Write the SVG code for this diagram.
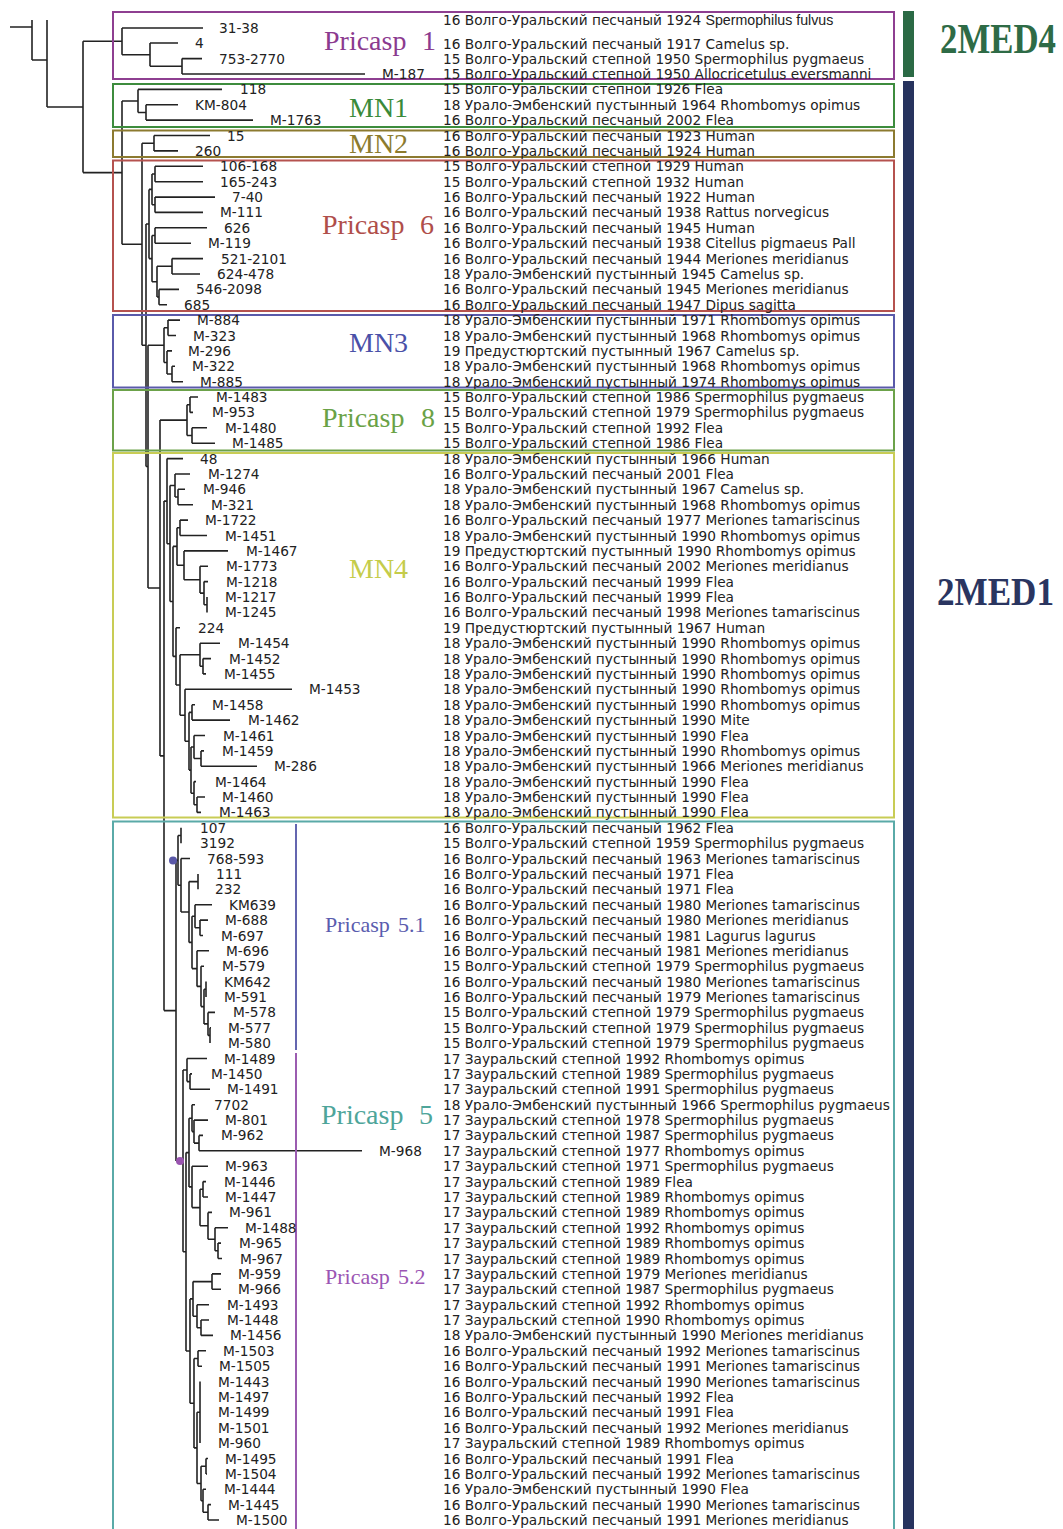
<svg xmlns="http://www.w3.org/2000/svg" width="1063" height="1529" viewBox="0 0 1063 1529">
<style>
.t{font-family:"DejaVu Sans",sans-serif;font-size:13.7px;fill:#222}
.ls{font-family:"Liberation Sans",sans-serif;font-size:14.2px}
.s{font-family:"Liberation Serif","Times New Roman",serif}
.br{stroke:#222;stroke-width:1.6;fill:none}
.bx{fill:none;stroke-width:2}
</style>
<rect width="1063" height="1529" fill="#fff"/>
<g id="bars">
<rect x="903" y="11" width="11" height="66" fill="#2b6a45"/>
<rect x="903" y="81" width="11" height="1460" fill="#27335e"/>
<text class="s" x="940" y="53" font-size="42" font-weight="bold" textLength="116" lengthAdjust="spacingAndGlyphs" fill="#2e6b46">2MED4</text>
<text class="s" x="937" y="605" font-size="40" font-weight="bold" textLength="117" lengthAdjust="spacingAndGlyphs" fill="#2a3560">2MED1</text>
</g>
<g id="connectors" class="br">
<path d="M10 27H32M32 20V60M32 60H47M47 20V107M47 107H83M83 41.3V172.6
M83 41.3H122M122 28V54.7M122 28H203M122 54.7H150M150 43V66.3M150 43H178M150 66.3H182M182 58.6V74M182 58.6H202M182 74H365
M83 172.6H122M122 101V244.2
M122 101H138M138 89.4V112.5M138 89.4H222M138 112.5H146M146 104.8V120.1M146 104.8H178M146 120.1H253
M122 244.2H142M142 143.2V345.3
M142 143.2H154M154 135.5V150.9M154 135.5H210M154 150.9H178
M142 345.3H146M146 224V466.5
M146 224H149M149 189.4V258.6M149 189.4H152M152 174V204.8M152 174H155M155 166.3V181.7M155 166.3H203M155 181.7H203M152 204.8H155M155 197.1V212.4M155 197.1H215M155 212.4H203M149 258.6H152M152 235.5V281.7M152 235.5H155M155 227.8V243.2M155 227.8H207M155 243.2H191M152 281.7H157M157 266.3V297M157 266.3H172M172 258.6V274M172 258.6H203M172 274H200M157 297H159M159 289.4V304.7M159 289.4H179M159 304.7H167
M146 466.5H148M148 345.3V588
M148 345.3H164M164 327.8V362.5M164 327.8H168M168 320.1V335.5M168 320.1H180M168 335.5H176M164 362.5H167M167 350.9V374M167 350.9H172M167 374H172M172 366.3V381.7M172 366.3H175M172 381.7H183
M148 588H160M160 420.1V755.9
M160 420.1H187M187 404.7V435.5M187 404.7H190M190 397V412.4M190 397H198M190 412.4H193M187 435.5H192M192 427.8V443.2M192 427.8H207M192 443.2H215
M160 755.9H164M164 501.1V1010.6
M164 501.1H167M167 458.6V543.7M167 458.6H183M167 543.7H170M170 485.5V601.5M170 485.5H175M175 474V497M175 474H190M175 497H178M178 489.3V504.7M178 489.3H185M178 504.7H193M170 601.5H173M173 546.4V656.4M173 546.4H177M177 527.8V565.3M177 527.8H180M180 520.1V535.5M180 520.1H188M180 535.5H207M177 565.3H184M184 550.9V579.7M184 550.9H228M184 579.7H200M200 566.3V593.1M200 566.3H208M200 593.1H204M204 581.6V604.7M204 581.6H208M204 604.7H207M207 597V612.4
M173 656.4H176M176 627.8V685M176 627.8H180M176 685H180M180 654.7V715.3M180 654.7H200M200 643.2V666.3M200 643.2H220M200 666.3H203M203 658.6V673.9M203 658.6H211M203 673.9H206M180 715.3H185M185 689.3V741.3M185 689.3H292M185 741.3H189M189 712.4V770.1M189 712.4H192M192 704.7V720.1M192 704.7H195M192 720.1H230M189 770.1H191M191 747V793.2M191 747H194M194 735.5V758.5M194 735.5H205M194 758.5H201M201 750.9V766.2M201 750.9H204M201 766.2H257M191 793.2H194M194 781.6V804.7M194 781.6H196M194 804.7H197M197 797V812.4M197 797H205M197 812.4H201
M164 1010.6H176M176 860.4V1160.9
M176 860.4H178M178 835.5V885.3M178 835.5H181M181 827.8V843.2M178 885.3H181M181 858.5V912M181 858.5H190M181 912H189M189 881.6V942.4M189 881.6H198M198 873.9V889.3M189 942.4H192M192 916.2V968.6M192 916.2H195M195 904.7V927.8M195 904.7H212M195 927.8H200M200 920.1V935.5M200 920.1H208M200 935.5H203M192 968.6H197M197 950.8V986.4M197 950.8H209M197 986.4H201M201 966.2V1006.6M201 966.2H204M201 1006.6H204M204 989.3V1023.9M204 989.3H206M206 981.6V997M204 1023.9H208M208 1012.4V1035.4M208 1012.4H215M208 1035.4H210M210 1027.8V1043.1M210 1027.8H211
M176 1160.9H183M183 1070V1251.8M183 1070H187M187 1058.5V1081.6M187 1058.5H207M187 1081.6H190M190 1073.9V1089.3M190 1073.9H192M190 1089.3H210M183 1251.8H186M186 1152.6V1351M186 1152.6H189M189 1118.2V1186.9M189 1118.2H192M192 1104.7V1131.6M192 1104.7H195M192 1131.6H194M194 1120.1V1143.1M194 1120.1H208M194 1143.1H199M199 1135.4V1150.8M199 1135.4H203M199 1150.8H362M189 1186.9H192M192 1166.2V1207.6M192 1166.2H208M192 1207.6H200M200 1189.3V1225.8M200 1189.3H203M203 1181.6V1197M203 1181.6H206M203 1197H208M200 1225.8H208M208 1212.4V1239.3M208 1212.4H212M208 1239.3H215M215 1227.7V1250.8M215 1227.7H228M215 1250.8H218M218 1243.1V1258.5M218 1243.1H221M218 1258.5H222
M186 1351H190M190 1298.9V1403.2M190 1298.9H193M193 1281.6V1316.2M193 1281.6H212M212 1273.9V1289.3M212 1273.9H221M212 1289.3H221M193 1316.2H197M197 1304.7V1327.7M197 1304.7H209M197 1327.7H201M201 1320V1335.4M201 1320H209M201 1335.4H213M190 1403.2H194M194 1358.5V1447.9M194 1358.5H198M198 1350.8V1366.2M198 1350.8H206M198 1366.2H202M194 1447.9H197M197 1412.3V1483.5M197 1412.3H200M200 1381.6V1443.1M197 1483.5H201M201 1466.2V1500.8M201 1466.2H206M206 1458.5V1473.9M206 1458.5H208M206 1473.9H207M201 1500.8H203M203 1489.3V1512.3M203 1489.3H206M203 1512.3H208M208 1504.6V1520M208 1504.6H211M208 1520H219"/>
<circle cx="173" cy="860.4" r="4" fill="#5a58a8" stroke="none"/>
<circle cx="180" cy="1161" r="4" fill="#9a55b0" stroke="none"/>
</g>

<g id="pricasp1">
<rect class="bx" x="113" y="12" width="781" height="67" stroke="#8e3f91"/>
<text class="s" y="50" font-size="28" fill="#8b3a8f"><tspan x="324">Pricasp</tspan><tspan x="422">1</tspan></text>
<text class="t" x="219" y="33">31-38</text>
<text class="t" x="195" y="48">4</text>
<text class="t" x="219" y="63.6">753-2770</text>
<text class="t" x="382" y="79">M-187</text>
<text class="t" x="443" y="25">16 Волго-Уральский песчаный 1924 <tspan class="ls">Spermophilus fulvus</tspan></text>
<text class="t" x="443" y="49">16 Волго-Уральский песчаный 1917 Camelus sp.</text>
<text class="t" x="443" y="63.6">15 Волго-Уральский степной 1950 Spermophilus pygmaeus</text>
<text class="t" x="443" y="79">15 Волго-Уральский степной 1950 Allocricetulus eversmanni</text>
</g>

<g id="mn1">
<rect class="bx" x="113" y="84" width="781" height="43" stroke="#3d8c3d"/>
<text class="s" x="349" y="117" font-size="28" fill="#3a8a3a">MN1</text>
<text class="t" x="240" y="94.4">118</text>
<text class="t" x="195" y="109.8">KM-804</text>
<text class="t" x="270" y="125.1">M-1763</text>
<text class="t" x="443" y="94.4">15 Волго-Уральский степной 1926 Flea</text>
<text class="t" x="443" y="109.8">18 Урало-Эмбенский пустынный 1964 Rhombomys opimus</text>
<text class="t" x="443" y="125.1">16 Волго-Уральский песчаный 2002 Flea</text>
</g>

<g id="mn2">
<rect class="bx" x="113" y="130.5" width="781" height="26.5" stroke="#8c7a30"/>
<text class="s" x="349" y="153" font-size="28" fill="#8c7b2e">MN2</text>
<text class="t" x="227" y="140.5">15</text>
<text class="t" x="195" y="155.9">260</text>
<text class="t" x="443" y="140.5">16 Волго-Уральский песчаный 1923 Human</text>
<text class="t" x="443" y="155.9">16 Волго-Уральский песчаный 1924 Human</text>
</g>

<g id="pricasp6">
<rect class="bx" x="113" y="160.5" width="781" height="150.5" stroke="#b5524f"/>
<text class="s" y="234" font-size="28" fill="#b04e4a"><tspan x="322">Pricasp</tspan><tspan x="420">6</tspan></text>
<text class="t" x="220" y="171.3">106-168</text>
<text class="t" x="220" y="186.7">165-243</text>
<text class="t" x="232" y="202.1">7-40</text>
<text class="t" x="220" y="217.4">M-111</text>
<text class="t" x="224" y="232.8">626</text>
<text class="t" x="208" y="248.2">M-119</text>
<text class="t" x="221" y="263.6">521-2101</text>
<text class="t" x="217" y="279">624-478</text>
<text class="t" x="196" y="294.4">546-2098</text>
<text class="t" x="184" y="309.7">685</text>
<text class="t" x="443" y="171.3">15 Волго-Уральский степной 1929 Human</text>
<text class="t" x="443" y="186.7">15 Волго-Уральский степной 1932 Human</text>
<text class="t" x="443" y="202.1">16 Волго-Уральский песчаный 1922 Human</text>
<text class="t" x="443" y="217.4">16 Волго-Уральский песчаный 1938 Rattus norvegicus</text>
<text class="t" x="443" y="232.8">16 Волго-Уральский песчаный 1945 Human</text>
<text class="t" x="443" y="248.2">16 Волго-Уральский песчаный 1938 Citellus pigmaeus Pall</text>
<text class="t" x="443" y="263.6">16 Волго-Уральский песчаный 1944 Meriones meridianus</text>
<text class="t" x="443" y="279">18 Урало-Эмбенский пустынный 1945 Camelus sp.</text>
<text class="t" x="443" y="294.4">16 Волго-Уральский песчаный 1945 Meriones meridianus</text>
<text class="t" x="443" y="309.7">16 Волго-Уральский песчаный 1947 Dipus sagitta</text>
</g>

<g id="mn3">
<rect class="bx" x="113" y="315" width="781" height="72.5" stroke="#5a5aaa"/>
<text class="s" x="349" y="352" font-size="28" fill="#4a50a8">MN3</text>
<text class="t" x="197" y="325.1">M-884</text>
<text class="t" x="193" y="340.5">M-323</text>
<text class="t" x="188" y="355.9">M-296</text>
<text class="t" x="192" y="371.3">M-322</text>
<text class="t" x="200" y="386.7">M-885</text>
<text class="t" x="443" y="325.1">18 Урало-Эмбенский пустынный 1971 Rhombomys opimus</text>
<text class="t" x="443" y="340.5">18 Урало-Эмбенский пустынный 1968 Rhombomys opimus</text>
<text class="t" x="443" y="355.9">19 Предустюртский пустынный 1967 Camelus sp.</text>
<text class="t" x="443" y="371.3">18 Урало-Эмбенский пустынный 1968 Rhombomys opimus</text>
<text class="t" x="443" y="386.7">18 Урало-Эмбенский пустынный 1974 Rhombomys opimus</text>
</g>

<g id="pricasp8">
<rect class="bx" x="113" y="390" width="781" height="60.5" stroke="#6ca24a"/>
<text class="s" y="427" font-size="28" fill="#6aa246"><tspan x="322">Pricasp</tspan><tspan x="421">8</tspan></text>
<text class="t" x="216" y="402">M-1483</text>
<text class="t" x="212" y="417.4">M-953</text>
<text class="t" x="225" y="432.8">M-1480</text>
<text class="t" x="232" y="448.2">M-1485</text>
<text class="t" x="443" y="402">15 Волго-Уральский степной 1986 Spermophilus pygmaeus</text>
<text class="t" x="443" y="417.4">15 Волго-Уральский степной 1979 Spermophilus pygmaeus</text>
<text class="t" x="443" y="432.8">15 Волго-Уральский степной 1992 Flea</text>
<text class="t" x="443" y="448.2">15 Волго-Уральский степной 1986 Flea</text>
</g>

<g id="mn4">
<rect class="bx" x="113" y="453" width="781" height="364.5" stroke="#c8cc55"/>
<text class="s" x="349" y="578" font-size="28" fill="#c5cc4a">MN4</text>
<text class="t" x="200" y="463.6">48</text>
<text class="t" x="208" y="479">M-1274</text>
<text class="t" x="203" y="494.3">M-946</text>
<text class="t" x="211" y="509.7">M-321</text>
<text class="t" x="205" y="525.1">M-1722</text>
<text class="t" x="225" y="540.5">M-1451</text>
<text class="t" x="246" y="555.9">M-1467</text>
<text class="t" x="226" y="571.3">M-1773</text>
<text class="t" x="226" y="586.6">M-1218</text>
<text class="t" x="225" y="602">M-1217</text>
<text class="t" x="225" y="617.4">M-1245</text>
<text class="t" x="198" y="632.8">224</text>
<text class="t" x="238" y="648.2">M-1454</text>
<text class="t" x="229" y="663.6">M-1452</text>
<text class="t" x="224" y="678.9">M-1455</text>
<text class="t" x="309" y="694.3">M-1453</text>
<text class="t" x="212" y="709.7">M-1458</text>
<text class="t" x="248" y="725.1">M-1462</text>
<text class="t" x="223" y="740.5">M-1461</text>
<text class="t" x="222" y="755.9">M-1459</text>
<text class="t" x="274" y="771.2">M-286</text>
<text class="t" x="215" y="786.6">M-1464</text>
<text class="t" x="222" y="802">M-1460</text>
<text class="t" x="219" y="817.4">M-1463</text>
<text class="t" x="443" y="463.6">18 Урало-Эмбенский пустынный 1966 Human</text>
<text class="t" x="443" y="479">16 Волго-Уральский песчаный 2001 Flea</text>
<text class="t" x="443" y="494.3">18 Урало-Эмбенский пустынный 1967 Camelus sp.</text>
<text class="t" x="443" y="509.7">18 Урало-Эмбенский пустынный 1968 Rhombomys opimus</text>
<text class="t" x="443" y="525.1">16 Волго-Уральский песчаный 1977 Meriones tamariscinus</text>
<text class="t" x="443" y="540.5">18 Урало-Эмбенский пустынный 1990 Rhombomys opimus</text>
<text class="t" x="443" y="555.9">19 Предустюртский пустынный 1990 Rhombomys opimus</text>
<text class="t" x="443" y="571.3">16 Волго-Уральский песчаный 2002 Meriones meridianus</text>
<text class="t" x="443" y="586.6">16 Волго-Уральский песчаный 1999 Flea</text>
<text class="t" x="443" y="602">16 Волго-Уральский песчаный 1999 Flea</text>
<text class="t" x="443" y="617.4">16 Волго-Уральский песчаный 1998 Meriones tamariscinus</text>
<text class="t" x="443" y="632.8">19 Предустюртский пустынный 1967 Human</text>
<text class="t" x="443" y="648.2">18 Урало-Эмбенский пустынный 1990 Rhombomys opimus</text>
<text class="t" x="443" y="663.6">18 Урало-Эмбенский пустынный 1990 Rhombomys opimus</text>
<text class="t" x="443" y="678.9">18 Урало-Эмбенский пустынный 1990 Rhombomys opimus</text>
<text class="t" x="443" y="694.3">18 Урало-Эмбенский пустынный 1990 Rhombomys opimus</text>
<text class="t" x="443" y="709.7">18 Урало-Эмбенский пустынный 1990 Rhombomys opimus</text>
<text class="t" x="443" y="725.1">18 Урало-Эмбенский пустынный 1990 Mite</text>
<text class="t" x="443" y="740.5">18 Урало-Эмбенский пустынный 1990 Flea</text>
<text class="t" x="443" y="755.9">18 Урало-Эмбенский пустынный 1990 Rhombomys opimus</text>
<text class="t" x="443" y="771.2">18 Урало-Эмбенский пустынный 1966 Meriones meridianus</text>
<text class="t" x="443" y="786.6">18 Урало-Эмбенский пустынный 1990 Flea</text>
<text class="t" x="443" y="802">18 Урало-Эмбенский пустынный 1990 Flea</text>
<text class="t" x="443" y="817.4">18 Урало-Эмбенский пустынный 1990 Flea</text>
</g>

<g id="pricasp5">
<rect class="bx" x="113" y="821.5" width="781" height="720" stroke="#5aaaa8"/>
<text class="s" y="1124" font-size="28" fill="#4ea59a"><tspan x="321">Pricasp</tspan><tspan x="419">5</tspan></text>
</g>

<g id="pricasp5-1">
<line x1="296" y1="824" x2="296" y2="1050" stroke="#6466b0" stroke-width="2"/>
<text class="s" y="932" font-size="22" fill="#5a5cae"><tspan x="325">Pricasp</tspan><tspan x="398">5.1</tspan></text>
<text class="t" x="200" y="832.8">107</text>
<text class="t" x="200" y="848.2">3192</text>
<text class="t" x="207" y="863.5">768-593</text>
<text class="t" x="216" y="878.9">111</text>
<text class="t" x="215" y="894.3">232</text>
<text class="t" x="229" y="909.7">KM639</text>
<text class="t" x="225" y="925.1">M-688</text>
<text class="t" x="221" y="940.5">M-697</text>
<text class="t" x="226" y="955.8">M-696</text>
<text class="t" x="222" y="971.2">M-579</text>
<text class="t" x="224" y="986.6">KM642</text>
<text class="t" x="224" y="1002">M-591</text>
<text class="t" x="233" y="1017.4">M-578</text>
<text class="t" x="228" y="1032.8">M-577</text>
<text class="t" x="228" y="1048.1">M-580</text>
<text class="t" x="443" y="832.8">16 Волго-Уральский песчаный 1962 Flea</text>
<text class="t" x="443" y="848.2">15 Волго-Уральский степной 1959 Spermophilus pygmaeus</text>
<text class="t" x="443" y="863.5">16 Волго-Уральский песчаный 1963 Meriones tamariscinus</text>
<text class="t" x="443" y="878.9">16 Волго-Уральский песчаный 1971 Flea</text>
<text class="t" x="443" y="894.3">16 Волго-Уральский песчаный 1971 Flea</text>
<text class="t" x="443" y="909.7">16 Волго-Уральский песчаный 1980 Meriones tamariscinus</text>
<text class="t" x="443" y="925.1">16 Волго-Уральский песчаный 1980 Meriones meridianus</text>
<text class="t" x="443" y="940.5">16 Волго-Уральский песчаный 1981 Lagurus lagurus</text>
<text class="t" x="443" y="955.8">16 Волго-Уральский песчаный 1981 Meriones meridianus</text>
<text class="t" x="443" y="971.2">15 Волго-Уральский степной 1979 Spermophilus pygmaeus</text>
<text class="t" x="443" y="986.6">16 Волго-Уральский песчаный 1980 Meriones tamariscinus</text>
<text class="t" x="443" y="1002">16 Волго-Уральский песчаный 1979 Meriones tamariscinus</text>
<text class="t" x="443" y="1017.4">15 Волго-Уральский степной 1979 Spermophilus pygmaeus</text>
<text class="t" x="443" y="1032.8">15 Волго-Уральский степной 1979 Spermophilus pygmaeus</text>
<text class="t" x="443" y="1048.1">15 Волго-Уральский степной 1979 Spermophilus pygmaeus</text>
</g>

<g id="pricasp5-2">
<line x1="296" y1="1053" x2="296" y2="1529" stroke="#9b5cb0" stroke-width="2"/>
<text class="s" y="1284" font-size="22" fill="#9b55b3"><tspan x="325">Pricasp</tspan><tspan x="398">5.2</tspan></text>
<text class="t" x="224" y="1063.5">M-1489</text>
<text class="t" x="211" y="1078.9">M-1450</text>
<text class="t" x="227" y="1094.3">M-1491</text>
<text class="t" x="214" y="1109.7">7702</text>
<text class="t" x="225" y="1125.1">M-801</text>
<text class="t" x="221" y="1140.4">M-962</text>
<text class="t" x="379" y="1155.8">M-968</text>
<text class="t" x="225" y="1171.2">M-963</text>
<text class="t" x="224" y="1186.6">M-1446</text>
<text class="t" x="225" y="1202">M-1447</text>
<text class="t" x="229" y="1217.4">M-961</text>
<text class="t" x="245" y="1232.7">M-1488</text>
<text class="t" x="239" y="1248.1">M-965</text>
<text class="t" x="240" y="1263.5">M-967</text>
<text class="t" x="238" y="1278.9">M-959</text>
<text class="t" x="238" y="1294.3">M-966</text>
<text class="t" x="227" y="1309.7">M-1493</text>
<text class="t" x="227" y="1325">M-1448</text>
<text class="t" x="230" y="1340.4">M-1456</text>
<text class="t" x="223" y="1355.8">M-1503</text>
<text class="t" x="219" y="1371.2">M-1505</text>
<text class="t" x="218" y="1386.6">M-1443</text>
<text class="t" x="218" y="1402">M-1497</text>
<text class="t" x="218" y="1417.3">M-1499</text>
<text class="t" x="218" y="1432.7">M-1501</text>
<text class="t" x="218" y="1448.1">M-960</text>
<text class="t" x="225" y="1463.5">M-1495</text>
<text class="t" x="225" y="1478.9">M-1504</text>
<text class="t" x="224" y="1494.3">M-1444</text>
<text class="t" x="228" y="1509.6">M-1445</text>
<text class="t" x="236" y="1525">M-1500</text>
<text class="t" x="443" y="1063.5">17 Зауральский степной 1992 Rhombomys opimus</text>
<text class="t" x="443" y="1078.9">17 Зауральский степной 1989 Spermophilus pygmaeus</text>
<text class="t" x="443" y="1094.3">17 Зауральский степной 1991 Spermophilus pygmaeus</text>
<text class="t" x="443" y="1109.7">18 Урало-Эмбенский пустынный 1966 Spermophilus pygmaeus</text>
<text class="t" x="443" y="1125.1">17 Зауральский степной 1978 Spermophilus pygmaeus</text>
<text class="t" x="443" y="1140.4">17 Зауральский степной 1987 Spermophilus pygmaeus</text>
<text class="t" x="443" y="1155.8">17 Зауральский степной 1977 Rhombomys opimus</text>
<text class="t" x="443" y="1171.2">17 Зауральский степной 1971 Spermophilus pygmaeus</text>
<text class="t" x="443" y="1186.6">17 Зауральский степной 1989 Flea</text>
<text class="t" x="443" y="1202">17 Зауральский степной 1989 Rhombomys opimus</text>
<text class="t" x="443" y="1217.4">17 Зауральский степной 1989 Rhombomys opimus</text>
<text class="t" x="443" y="1232.7">17 Зауральский степной 1992 Rhombomys opimus</text>
<text class="t" x="443" y="1248.1">17 Зауральский степной 1989 Rhombomys opimus</text>
<text class="t" x="443" y="1263.5">17 Зауральский степной 1989 Rhombomys opimus</text>
<text class="t" x="443" y="1278.9">17 Зауральский степной 1979 Meriones meridianus</text>
<text class="t" x="443" y="1294.3">17 Зауральский степной 1987 Spermophilus pygmaeus</text>
<text class="t" x="443" y="1309.7">17 Зауральский степной 1992 Rhombomys opimus</text>
<text class="t" x="443" y="1325">17 Зауральский степной 1990 Rhombomys opimus</text>
<text class="t" x="443" y="1340.4">18 Урало-Эмбенский пустынный 1990 Meriones meridianus</text>
<text class="t" x="443" y="1355.8">16 Волго-Уральский песчаный 1992 Meriones tamariscinus</text>
<text class="t" x="443" y="1371.2">16 Волго-Уральский песчаный 1991 Meriones tamariscinus</text>
<text class="t" x="443" y="1386.6">16 Волго-Уральский песчаный 1990 Meriones tamariscinus</text>
<text class="t" x="443" y="1402">16 Волго-Уральский песчаный 1992 Flea</text>
<text class="t" x="443" y="1417.3">16 Волго-Уральский песчаный 1991 Flea</text>
<text class="t" x="443" y="1432.7">16 Волго-Уральский песчаный 1992 Meriones meridianus</text>
<text class="t" x="443" y="1448.1">17 Зауральский степной 1989 Rhombomys opimus</text>
<text class="t" x="443" y="1463.5">16 Волго-Уральский песчаный 1991 Flea</text>
<text class="t" x="443" y="1478.9">16 Волго-Уральский песчаный 1992 Meriones tamariscinus</text>
<text class="t" x="443" y="1494.3">16 Урало-Эмбенский пустынный 1990 Flea</text>
<text class="t" x="443" y="1509.6">16 Волго-Уральский песчаный 1990 Meriones tamariscinus</text>
<text class="t" x="443" y="1525">16 Волго-Уральский песчаный 1991 Meriones meridianus</text>
</g>
</svg>
